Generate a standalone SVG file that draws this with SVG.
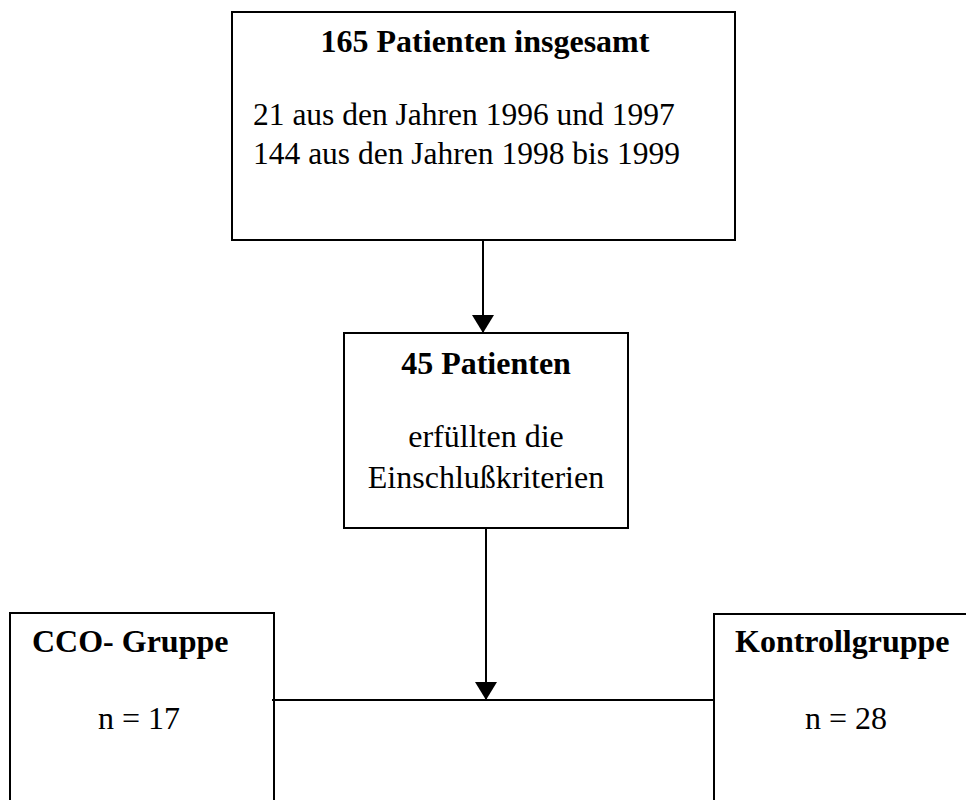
<svg xmlns="http://www.w3.org/2000/svg" width="966" height="800" viewBox="0 0 966 800">
<defs>
<style>
.box{fill:#fff;stroke:#000;stroke-width:2}
.ln{fill:none;stroke:#000;stroke-width:2}
.t{font-family:"Liberation Serif","Times New Roman",serif;font-size:32px;fill:#000}
.s{font-size:31.5px}
.b{font-weight:bold}
</style>
<marker id="ah" markerWidth="18" markerHeight="22" refX="18" refY="11" orient="auto" markerUnits="userSpaceOnUse" viewBox="0 0 18 22">
<path d="M0,0 L18,11 L0,22 Z" fill="#000"/>
</marker>
</defs>
<rect width="966" height="800" fill="#fff"/>
<g id="node-total">
<rect class="box" x="232" y="12" width="503" height="228"/>
<text class="t b" x="485" y="52" text-anchor="middle">165 Patienten insgesamt</text>
<text class="t s" x="253" y="125">21 aus den Jahren 1996 und 1997</text>
<text class="t s" x="253" y="164">144 aus den Jahren 1998 bis 1999</text>
</g>
<g id="node-included">
<rect class="box" x="344" y="333" width="284" height="195"/>
<text class="t b" x="486" y="374" text-anchor="middle">45 Patienten</text>
<text class="t" x="486" y="447" text-anchor="middle">erfüllten die</text>
<text class="t" x="486" y="488" text-anchor="middle">Einschlußkriterien</text>
</g>
<g id="node-cco">
<rect class="box" x="10" y="613" width="264" height="200"/>
<text class="t b" x="32" y="652">CCO- Gruppe</text>
<text class="t" x="139" y="729" text-anchor="middle">n = 17</text>
</g>
<g id="node-control">
<rect class="box" x="714" y="614" width="262" height="200"/>
<text class="t b" x="735" y="652">Kontrollgruppe</text>
<text class="t" x="846" y="729" text-anchor="middle">n = 28</text>
</g>
<g id="connectors">
<line class="ln" x1="483" y1="240" x2="483" y2="333" marker-end="url(#ah)"/>
<line class="ln" x1="486" y1="528" x2="486" y2="700" marker-end="url(#ah)"/>
<line class="ln" x1="272" y1="700" x2="714" y2="700"/>
</g>
</svg>
